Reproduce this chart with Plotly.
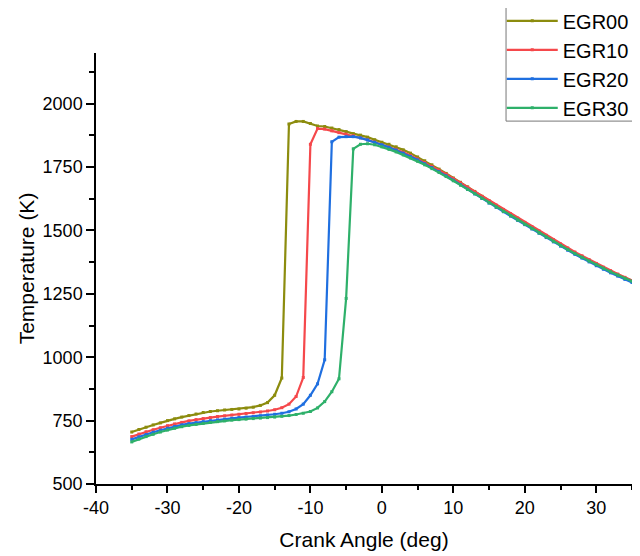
import plotly.graph_objects as go

# Crank angle (deg) grid, 1-degree steps
crank_angle = list(range(-35, 36))

# Temperature (K) per EGR level
egr00 = [705, 715, 724, 733, 741, 750, 757, 764, 770, 776,
         782, 786, 789, 792, 794, 796, 799, 803, 810, 821,
         850, 918, 1920, 1930, 1930, 1922, 1912, 1910, 1904, 1898,
         1890, 1882, 1876, 1868, 1858, 1848,
         1840, 1830, 1818, 1805, 1790, 1775, 1759, 1742, 1725, 1707,
         1690, 1672, 1654, 1635, 1616, 1598, 1580, 1563, 1546, 1528,
         1511, 1494, 1477, 1460, 1443, 1427, 1411, 1396, 1381, 1367,
         1353, 1339, 1326, 1313, 1302]
egr10 = [687, 697, 706, 714, 722, 730, 737, 743, 749, 754,
         758, 762, 766, 769, 772, 775, 778, 781, 784, 788,
         793, 801, 815, 845, 920, 1840, 1902, 1900, 1893, 1886,
         1880, 1874, 1866, 1858, 1848, 1838,
         1830, 1820, 1808, 1796, 1782, 1768, 1753, 1738, 1722, 1705,
         1688, 1670, 1652, 1634, 1617, 1600, 1583, 1566, 1549, 1532,
         1515, 1498, 1481, 1464, 1447, 1431, 1415, 1400, 1385, 1370,
         1355, 1341, 1328, 1315, 1303]
egr20 = [676, 686, 695, 704, 712, 720, 727, 733, 738, 742,
         746, 750, 753, 756, 759, 762, 764, 766, 769, 772,
         775, 779, 785, 796, 815, 850, 895, 990, 1850, 1868,
         1870, 1870, 1865, 1857, 1848, 1838,
         1828, 1817, 1805, 1792, 1778, 1763, 1748, 1732, 1715, 1698,
         1680, 1662, 1644, 1626, 1608, 1591, 1574, 1557, 1540, 1523,
         1506, 1489, 1472, 1455, 1438, 1422, 1406, 1391, 1376, 1361,
         1347, 1333, 1320, 1307, 1295]
egr30 = [666, 677, 687, 696, 705, 713, 720, 726, 731, 735,
         739, 743, 746, 749, 752, 754, 756, 758, 760, 762,
         764, 767, 770, 774, 779, 786, 800, 825, 864, 915,
         1232, 1822, 1840, 1842, 1838, 1830,
         1820, 1810, 1798, 1786, 1773, 1759, 1744, 1729, 1713, 1696,
         1679, 1662, 1645, 1627, 1609, 1592, 1575, 1558, 1541, 1524,
         1507, 1490, 1474, 1457, 1441, 1425, 1409, 1394, 1379, 1365,
         1351, 1337, 1324, 1311, 1300]

series_names = ["EGR00", "EGR10", "EGR20", "EGR30"]
series_values = [egr00, egr10, egr20, egr30]
series_colors = ["#8C8C0E", "#F5484B", "#1F6FE0", "#2EB06A"]

x_tickvals = [-40, -30, -20, -10, 0, 10, 20, 30]
x_ticktext = ["-40", "-30", "-20", "-10", "0", "10", "20", "30"]
y_tickvals = [500, 750, 1000, 1250, 1500, 1750, 2000]
y_ticktext = ["500", "750", "1000", "1250", "1500", "1750", "2000"]

fig = go.Figure()
for name, vals, col in zip(series_names, series_values, series_colors):
    fig.add_trace(go.Scatter(
        x=crank_angle, y=vals, name=name, mode="lines+markers",
        line=dict(color=col, width=2.2),
        marker=dict(color=col, size=3, symbol="square"),
    ))

FONT = "Liberation Sans, Arial, sans-serif"
axis_font = dict(family=FONT, size=18, color="#000")

# legend frame (drawn as a shape so the frame can sit independently of row padding)
fig.add_shape(type="rect", xref="paper", yref="paper",
              x0=0.765, x1=1.3, y0=0.842, y1=1.107,
              line=dict(color="#777", width=1), fillcolor="rgba(0,0,0,0)")

fig.update_layout(
    width=640, height=556,
    margin=dict(l=88, r=16, t=45, b=80, autoexpand=False),
    paper_bgcolor="white", plot_bgcolor="white",
    font=dict(family=FONT, size=18, color="#000"),
    showlegend=True,
    legend=dict(
        x=0.757, y=1.120, xanchor="left", yanchor="top",
        bgcolor="rgba(0,0,0,0)", borderwidth=0,
        font=dict(family=FONT, size=20, color="#000"),
        itemwidth=51, tracegroupgap=0,
    ),
    xaxis=dict(
        range=[-40, 35], tickvals=x_tickvals, ticktext=x_ticktext,
        ticks="outside", ticklen=7, tickwidth=1.5, tickcolor="#000",
        minor=dict(dtick=5, tick0=-40, ticks="outside", ticklen=4, tickcolor="#000"),
        showline=True, linecolor="#000", linewidth=1.5,
        showgrid=False, zeroline=False, tickfont=axis_font,
        title=dict(text="Crank Angle (deg)", font=dict(family=FONT, size=21), standoff=15),
    ),
    yaxis=dict(
        range=[500, 2200], tickvals=y_tickvals, ticktext=y_ticktext,
        ticks="outside", ticklen=8, tickwidth=1.5, tickcolor="#000",
        minor=dict(dtick=125, tick0=500, ticks="outside", ticklen=5, tickcolor="#000"),
        showline=True, linecolor="#000", linewidth=1.5,
        showgrid=False, zeroline=False, tickfont=axis_font,
        title=dict(text="Temperature (K)", font=dict(family=FONT, size=21), standoff=2),
    ),
)

fig.write_html("out.html")
